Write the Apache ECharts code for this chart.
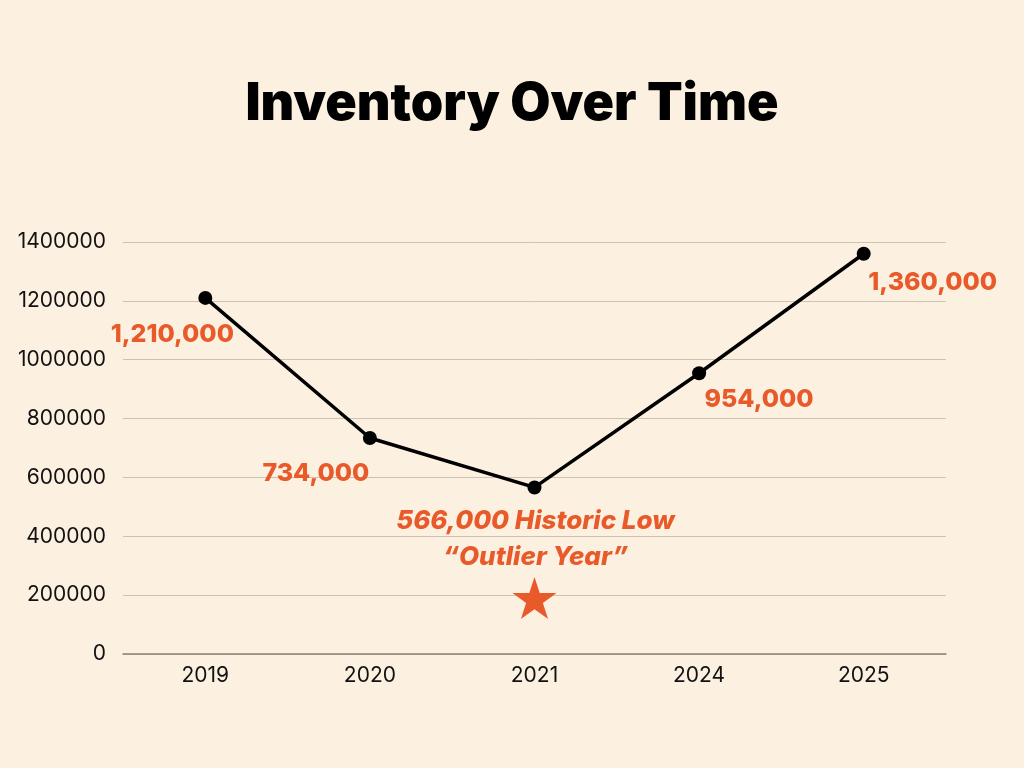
<!DOCTYPE html>
<html>
<head>
<meta charset="utf-8">
<script src="https://cdn.jsdelivr.net/npm/echarts@6/dist/echarts.min.js"></script>
<style>
html,body{margin:0;padding:0;background:#FCF0E1;}
#c{width:1024px;height:768px;}
</style>
</head>
<body>
<div id="c"></div>
<script>
var categories = ['2019', '2020', '2021', '2024', '2025'];
var inventory = [1210000, 734000, 566000, 954000, 1360000];
var notes = ['', '', 'Historic Low\n“Outlier Year”', '', ''];
var starValue = [null, null, 190000, null, null];
var yTicks = { min: 0, max: 1400000, interval: 200000 };

var labelOffsets = [[-33, 37], [-54, 35], [1, 52], [60, 26], [69, 29]];
var orange = '#E95A2B';
var fam = 'Inter, "Open Sans", sans-serif';

var lineData = inventory.map(function (v, i) {
  var txt = v.toLocaleString('en-US');
  var isNote = notes[i] !== '';
  var parts = notes[i].split('\n');
  return {
    value: v,
    label: {
      show: true,
      position: 'inside',
      offset: labelOffsets[i],
      align: 'center',
      verticalAlign: 'middle',
      color: orange,
      fontFamily: fam,
      fontWeight: 800,
      fontSize: isNote ? 26 : 25,
      fontStyle: isNote ? 'italic' : 'normal',
      lineHeight: 36,
      formatter: isNote ? (txt + ' ' + parts[0] + '\n' + parts[1]) : txt
    }
  };
});

var chart = echarts.init(document.getElementById('c'), null, { renderer: 'canvas' });
chart.setOption({
  backgroundColor: '#FCF0E1',
  animation: false,
  title: {
    text: 'Inventory Over Time',
    left: 'center',
    top: 73,
    textStyle: { fontFamily: fam, fontWeight: 900, fontSize: 52, color: '#000' }
  },
  grid: { left: 123, right: 78, top: 242, bottom: 114, containLabel: false },
  xAxis: {
    type: 'category',
    data: categories,
    boundaryGap: true,
    axisLine: { show: true, lineStyle: { color: '#8C8276', width: 1.5 } },
    axisTick: { show: false },
    axisLabel: { color: '#111', fontFamily: fam, fontSize: 21, margin: 11 }
  },
  yAxis: {
    type: 'value',
    min: yTicks.min,
    max: yTicks.max,
    interval: yTicks.interval,
    axisLine: { show: false },
    axisTick: { show: false },
    splitLine: { lineStyle: { color: '#CFC2B0', width: 1 } },
    axisLabel: {
      color: '#111', fontFamily: fam, fontSize: 21, margin: 17,
      formatter: function (v) { return String(v); }
    }
  },
  series: [
    {
      type: 'line',
      data: lineData,
      symbol: 'circle',
      symbolSize: 14,
      lineStyle: { color: '#000', width: 3.5 },
      itemStyle: { color: '#000' },
      z: 3
    },
    {
      type: 'scatter',
      data: starValue,
      symbol: 'path://M50,0 L61.8,36.2 L100,36.2 L69.1,58.8 L80.9,95.1 L50,72.7 L19.1,95.1 L30.9,58.8 L0,36.2 L38.2,36.2 Z',
      symbolSize: [44, 42],
      itemStyle: { color: orange, opacity: 1 },
      z: 2
    }
  ]
});
</script>
</body>
</html>
